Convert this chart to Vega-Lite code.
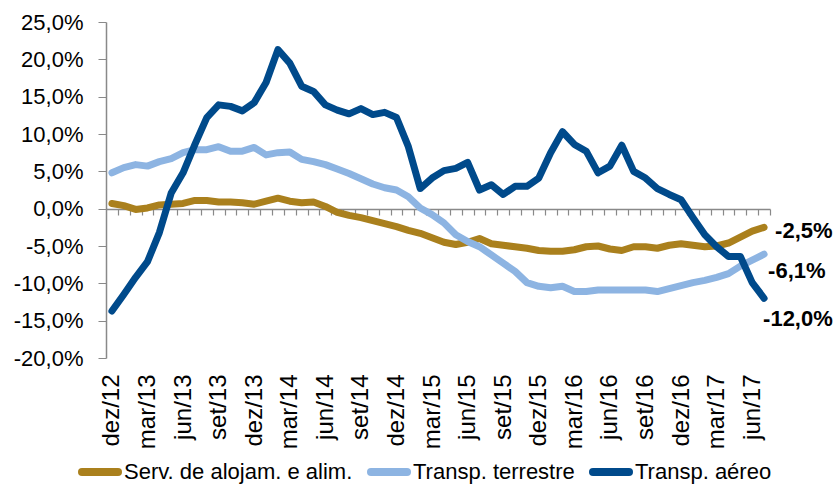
{
  "$schema": "https://vega.github.io/schema/vega-lite/v6.json",
  "width": 664,
  "height": 336,
  "autosize": {"type": "none"},
  "padding": {"left": 106, "top": 22, "right": 66, "bottom": 126},
  "background": "white",
  "config": {
    "view": {"stroke": null},
    "font": "Liberation Sans",
    "locale": {"number": {"decimal": ",", "thousands": ".", "grouping": [3], "currency": ["", " €"], "minus": "-"}},
    "axis": {"labelFont": "Liberation Sans", "labelColor": "#000000", "domainColor": "#898989", "tickColor": "#898989", "grid": false, "title": null}
  },
  "datasets": {
    "d": [
      {"m":"dez/12","s":"Serv. de alojam. e alim.","v":0.007},{"m":"jan/13","s":"Serv. de alojam. e alim.","v":0.004},{"m":"fev/13","s":"Serv. de alojam. e alim.","v":-0.001},{"m":"mar/13","s":"Serv. de alojam. e alim.","v":0.001},{"m":"abr/13","s":"Serv. de alojam. e alim.","v":0.005},{"m":"mai/13","s":"Serv. de alojam. e alim.","v":0.006},{"m":"jun/13","s":"Serv. de alojam. e alim.","v":0.007},{"m":"jul/13","s":"Serv. de alojam. e alim.","v":0.011},{"m":"ago/13","s":"Serv. de alojam. e alim.","v":0.011},{"m":"set/13","s":"Serv. de alojam. e alim.","v":0.009},{"m":"out/13","s":"Serv. de alojam. e alim.","v":0.009},{"m":"nov/13","s":"Serv. de alojam. e alim.","v":0.008},{"m":"dez/13","s":"Serv. de alojam. e alim.","v":0.006},{"m":"jan/14","s":"Serv. de alojam. e alim.","v":0.010},{"m":"fev/14","s":"Serv. de alojam. e alim.","v":0.014},{"m":"mar/14","s":"Serv. de alojam. e alim.","v":0.010},{"m":"abr/14","s":"Serv. de alojam. e alim.","v":0.008},{"m":"mai/14","s":"Serv. de alojam. e alim.","v":0.009},{"m":"jun/14","s":"Serv. de alojam. e alim.","v":0.003},{"m":"jul/14","s":"Serv. de alojam. e alim.","v":-0.005},{"m":"ago/14","s":"Serv. de alojam. e alim.","v":-0.009},{"m":"set/14","s":"Serv. de alojam. e alim.","v":-0.012},{"m":"out/14","s":"Serv. de alojam. e alim.","v":-0.016},{"m":"nov/14","s":"Serv. de alojam. e alim.","v":-0.020},{"m":"dez/14","s":"Serv. de alojam. e alim.","v":-0.024},{"m":"jan/15","s":"Serv. de alojam. e alim.","v":-0.029},{"m":"fev/15","s":"Serv. de alojam. e alim.","v":-0.033},{"m":"mar/15","s":"Serv. de alojam. e alim.","v":-0.039},{"m":"abr/15","s":"Serv. de alojam. e alim.","v":-0.045},{"m":"mai/15","s":"Serv. de alojam. e alim.","v":-0.048},{"m":"jun/15","s":"Serv. de alojam. e alim.","v":-0.045},{"m":"jul/15","s":"Serv. de alojam. e alim.","v":-0.040},{"m":"ago/15","s":"Serv. de alojam. e alim.","v":-0.047},{"m":"set/15","s":"Serv. de alojam. e alim.","v":-0.049},{"m":"out/15","s":"Serv. de alojam. e alim.","v":-0.051},{"m":"nov/15","s":"Serv. de alojam. e alim.","v":-0.053},{"m":"dez/15","s":"Serv. de alojam. e alim.","v":-0.056},{"m":"jan/16","s":"Serv. de alojam. e alim.","v":-0.057},{"m":"fev/16","s":"Serv. de alojam. e alim.","v":-0.057},{"m":"mar/16","s":"Serv. de alojam. e alim.","v":-0.055},{"m":"abr/16","s":"Serv. de alojam. e alim.","v":-0.051},{"m":"mai/16","s":"Serv. de alojam. e alim.","v":-0.050},{"m":"jun/16","s":"Serv. de alojam. e alim.","v":-0.054},{"m":"jul/16","s":"Serv. de alojam. e alim.","v":-0.056},{"m":"ago/16","s":"Serv. de alojam. e alim.","v":-0.051},{"m":"set/16","s":"Serv. de alojam. e alim.","v":-0.051},{"m":"out/16","s":"Serv. de alojam. e alim.","v":-0.053},{"m":"nov/16","s":"Serv. de alojam. e alim.","v":-0.049},{"m":"dez/16","s":"Serv. de alojam. e alim.","v":-0.047},{"m":"jan/17","s":"Serv. de alojam. e alim.","v":-0.049},{"m":"fev/17","s":"Serv. de alojam. e alim.","v":-0.051},{"m":"mar/17","s":"Serv. de alojam. e alim.","v":-0.050},{"m":"abr/17","s":"Serv. de alojam. e alim.","v":-0.046},{"m":"mai/17","s":"Serv. de alojam. e alim.","v":-0.038},{"m":"jun/17","s":"Serv. de alojam. e alim.","v":-0.030},{"m":"jul/17","s":"Serv. de alojam. e alim.","v":-0.025},
      {"m":"dez/12","s":"Transp. terrestre","v":0.048},{"m":"jan/13","s":"Transp. terrestre","v":0.055},{"m":"fev/13","s":"Transp. terrestre","v":0.059},{"m":"mar/13","s":"Transp. terrestre","v":0.057},{"m":"abr/13","s":"Transp. terrestre","v":0.063},{"m":"mai/13","s":"Transp. terrestre","v":0.067},{"m":"jun/13","s":"Transp. terrestre","v":0.075},{"m":"jul/13","s":"Transp. terrestre","v":0.079},{"m":"ago/13","s":"Transp. terrestre","v":0.079},{"m":"set/13","s":"Transp. terrestre","v":0.083},{"m":"out/13","s":"Transp. terrestre","v":0.077},{"m":"nov/13","s":"Transp. terrestre","v":0.077},{"m":"dez/13","s":"Transp. terrestre","v":0.082},{"m":"jan/14","s":"Transp. terrestre","v":0.072},{"m":"fev/14","s":"Transp. terrestre","v":0.075},{"m":"mar/14","s":"Transp. terrestre","v":0.076},{"m":"abr/14","s":"Transp. terrestre","v":0.066},{"m":"mai/14","s":"Transp. terrestre","v":0.063},{"m":"jun/14","s":"Transp. terrestre","v":0.059},{"m":"jul/14","s":"Transp. terrestre","v":0.053},{"m":"ago/14","s":"Transp. terrestre","v":0.047},{"m":"set/14","s":"Transp. terrestre","v":0.040},{"m":"out/14","s":"Transp. terrestre","v":0.033},{"m":"nov/14","s":"Transp. terrestre","v":0.028},{"m":"dez/14","s":"Transp. terrestre","v":0.025},{"m":"jan/15","s":"Transp. terrestre","v":0.016},{"m":"fev/15","s":"Transp. terrestre","v":0.001},{"m":"mar/15","s":"Transp. terrestre","v":-0.008},{"m":"abr/15","s":"Transp. terrestre","v":-0.019},{"m":"mai/15","s":"Transp. terrestre","v":-0.035},{"m":"jun/15","s":"Transp. terrestre","v":-0.044},{"m":"jul/15","s":"Transp. terrestre","v":-0.051},{"m":"ago/15","s":"Transp. terrestre","v":-0.062},{"m":"set/15","s":"Transp. terrestre","v":-0.073},{"m":"out/15","s":"Transp. terrestre","v":-0.084},{"m":"nov/15","s":"Transp. terrestre","v":-0.099},{"m":"dez/15","s":"Transp. terrestre","v":-0.104},{"m":"jan/16","s":"Transp. terrestre","v":-0.106},{"m":"fev/16","s":"Transp. terrestre","v":-0.104},{"m":"mar/16","s":"Transp. terrestre","v":-0.111},{"m":"abr/16","s":"Transp. terrestre","v":-0.111},{"m":"mai/16","s":"Transp. terrestre","v":-0.109},{"m":"jun/16","s":"Transp. terrestre","v":-0.109},{"m":"jul/16","s":"Transp. terrestre","v":-0.109},{"m":"ago/16","s":"Transp. terrestre","v":-0.109},{"m":"set/16","s":"Transp. terrestre","v":-0.109},{"m":"out/16","s":"Transp. terrestre","v":-0.111},{"m":"nov/16","s":"Transp. terrestre","v":-0.107},{"m":"dez/16","s":"Transp. terrestre","v":-0.103},{"m":"jan/17","s":"Transp. terrestre","v":-0.099},{"m":"fev/17","s":"Transp. terrestre","v":-0.096},{"m":"mar/17","s":"Transp. terrestre","v":-0.092},{"m":"abr/17","s":"Transp. terrestre","v":-0.087},{"m":"mai/17","s":"Transp. terrestre","v":-0.077},{"m":"jun/17","s":"Transp. terrestre","v":-0.069},{"m":"jul/17","s":"Transp. terrestre","v":-0.061},
      {"m":"dez/12","s":"Transp. aéreo","v":-0.137},{"m":"jan/13","s":"Transp. aéreo","v":-0.115},{"m":"fev/13","s":"Transp. aéreo","v":-0.092},{"m":"mar/13","s":"Transp. aéreo","v":-0.071},{"m":"abr/13","s":"Transp. aéreo","v":-0.032},{"m":"mai/13","s":"Transp. aéreo","v":0.021},{"m":"jun/13","s":"Transp. aéreo","v":0.048},{"m":"jul/13","s":"Transp. aéreo","v":0.086},{"m":"ago/13","s":"Transp. aéreo","v":0.122},{"m":"set/13","s":"Transp. aéreo","v":0.139},{"m":"out/13","s":"Transp. aéreo","v":0.137},{"m":"nov/13","s":"Transp. aéreo","v":0.131},{"m":"dez/13","s":"Transp. aéreo","v":0.142},{"m":"jan/14","s":"Transp. aéreo","v":0.169},{"m":"fev/14","s":"Transp. aéreo","v":0.213},{"m":"mar/14","s":"Transp. aéreo","v":0.195},{"m":"abr/14","s":"Transp. aéreo","v":0.164},{"m":"mai/14","s":"Transp. aéreo","v":0.157},{"m":"jun/14","s":"Transp. aéreo","v":0.139},{"m":"jul/14","s":"Transp. aéreo","v":0.132},{"m":"ago/14","s":"Transp. aéreo","v":0.127},{"m":"set/14","s":"Transp. aéreo","v":0.134},{"m":"out/14","s":"Transp. aéreo","v":0.126},{"m":"nov/14","s":"Transp. aéreo","v":0.129},{"m":"dez/14","s":"Transp. aéreo","v":0.122},{"m":"jan/15","s":"Transp. aéreo","v":0.083},{"m":"fev/15","s":"Transp. aéreo","v":0.027},{"m":"mar/15","s":"Transp. aéreo","v":0.041},{"m":"abr/15","s":"Transp. aéreo","v":0.051},{"m":"mai/15","s":"Transp. aéreo","v":0.054},{"m":"jun/15","s":"Transp. aéreo","v":0.062},{"m":"jul/15","s":"Transp. aéreo","v":0.025},{"m":"ago/15","s":"Transp. aéreo","v":0.032},{"m":"set/15","s":"Transp. aéreo","v":0.019},{"m":"out/15","s":"Transp. aéreo","v":0.030},{"m":"nov/15","s":"Transp. aéreo","v":0.030},{"m":"dez/15","s":"Transp. aéreo","v":0.041},{"m":"jan/16","s":"Transp. aéreo","v":0.075},{"m":"fev/16","s":"Transp. aéreo","v":0.103},{"m":"mar/16","s":"Transp. aéreo","v":0.086},{"m":"abr/16","s":"Transp. aéreo","v":0.077},{"m":"mai/16","s":"Transp. aéreo","v":0.048},{"m":"jun/16","s":"Transp. aéreo","v":0.057},{"m":"jul/16","s":"Transp. aéreo","v":0.085},{"m":"ago/16","s":"Transp. aéreo","v":0.050},{"m":"set/16","s":"Transp. aéreo","v":0.041},{"m":"out/16","s":"Transp. aéreo","v":0.027},{"m":"nov/16","s":"Transp. aéreo","v":0.019},{"m":"dez/16","s":"Transp. aéreo","v":0.012},{"m":"jan/17","s":"Transp. aéreo","v":-0.012},{"m":"fev/17","s":"Transp. aéreo","v":-0.035},{"m":"mar/17","s":"Transp. aéreo","v":-0.051},{"m":"abr/17","s":"Transp. aéreo","v":-0.064},{"m":"mai/17","s":"Transp. aéreo","v":-0.064},{"m":"jun/17","s":"Transp. aéreo","v":-0.099},{"m":"jul/17","s":"Transp. aéreo","v":-0.120}
    ]
  },
  "data": {"name": "d"},
  "encoding": {
    "y": {"field": "v", "type": "quantitative", "scale": {"domain": [-0.2, 0.25], "nice": false, "zero": false},
          "axis": {"values": [-0.2, -0.15, -0.1, -0.05, 0, 0.05, 0.1, 0.15, 0.2, 0.25], "format": ".1%", "tickSize": 8, "labelPadding": 15, "labelFontSize": 22, "labelOverlap": false, "labelFlush": false, "labelBound": false, "domainWidth": 1.5}}
  },
  "resolve": {"axis": {"x": "independent"}},
  "layer": [
    {
      "mark": {"type": "line", "strokeWidth": 7, "strokeCap": "round", "strokeJoin": "round"},
      "encoding": {
        "x": {"field": "m", "type": "ordinal", "sort": null, "scale": {"type": "point", "padding": 0.5},
              "axis": {"orient": "bottom", "offset": -149, "labels": false, "tickSize": 6, "tickOffset": 5.93, "domainWidth": 1.5, "tickWidth": 1.2}},
        "color": {"field": "s", "type": "nominal", "sort": null,
                  "scale": {"domain": ["Serv. de alojam. e alim.", "Transp. terrestre", "Transp. aéreo"], "range": ["#AA801D", "#8DB4E2", "#004A8B"]},
                  "legend": {"orient": "none", "legendX": -28, "legendY": 428, "direction": "horizontal", "title": null, "symbolType": "stroke", "symbolSize": 1296, "symbolStrokeWidth": 8, "labelFontSize": 22, "labelColor": "#000000", "labelFont": "Liberation Sans", "labelOffset": 2, "columnPadding": 2, "labelLimit": 400, "padding": 0,
                             "encode": {"symbols": {"update": {"strokeCap": {"value": "round"}}}}}}
      }
    },
    {
      "transform": [{"filter": "datum.m == 'jul/17' && datum.s == 'Serv. de alojam. e alim.'"}],
      "mark": {"type": "text", "align": "left", "baseline": "middle", "dx": 11, "dy": 4, "fontSize": 22, "fontWeight": "bold", "color": "#000000"},
      "encoding": {
        "x": {"field": "m", "type": "ordinal", "sort": null,
              "axis": {"orient": "bottom", "offset": 0, "ticks": false, "domain": false, "labelAngle": -90, "labelPadding": 16, "labelFontSize": 24, "labelOverlap": false,
                       "values": ["dez/12","mar/13","jun/13","set/13","dez/13","mar/14","jun/14","set/14","dez/14","mar/15","jun/15","set/15","dez/15","mar/16","jun/16","set/16","dez/16","mar/17","jun/17"]}},
        "text": {"field": "v", "type": "quantitative", "format": ".1%"}
      }
    },
    {
      "transform": [{"filter": "datum.m == 'jul/17' && datum.s == 'Transp. terrestre'"}],
      "mark": {"type": "text", "align": "left", "baseline": "middle", "dx": 4, "dy": 17, "fontSize": 22, "fontWeight": "bold", "color": "#000000"},
      "encoding": {
        "x": {"field": "m", "type": "ordinal", "sort": null, "axis": null},
        "text": {"field": "v", "type": "quantitative", "format": ".1%"}
      }
    },
    {
      "transform": [{"filter": "datum.m == 'jul/17' && datum.s == 'Transp. aéreo'"}],
      "mark": {"type": "text", "align": "left", "baseline": "middle", "dx": -1, "dy": 21, "fontSize": 22, "fontWeight": "bold", "color": "#000000"},
      "encoding": {
        "x": {"field": "m", "type": "ordinal", "sort": null, "axis": null},
        "text": {"field": "v", "type": "quantitative", "format": ".1%"}
      }
    }
  ]
}
